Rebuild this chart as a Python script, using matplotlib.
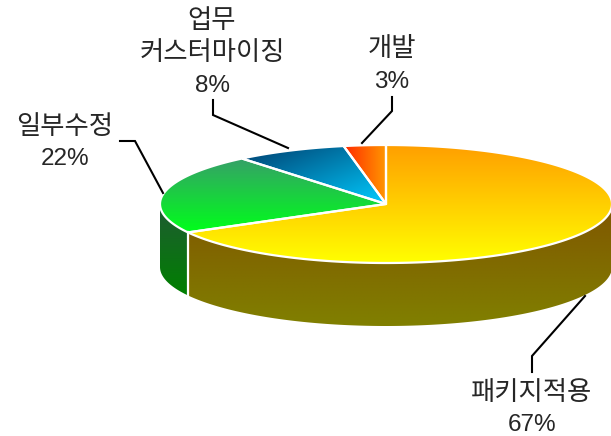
import numpy as np
import matplotlib
matplotlib.use('Agg')
import matplotlib.pyplot as plt
from matplotlib.patches import Polygon

plt.rcParams['font.family'] = ['Noto Sans CJK KR', 'DejaVu Sans']

# pie data, clockwise from 12 o'clock
labels = [['패키지적용'], ['일부수정'], ['업무', '커스터마이징'], ['개발']]
values = [67, 22, 8, 3]

# top colours: (start, end, direction)
top_colors = [
    ('#ff9f00', '#ffff00', 'v'),
    ('#36a068', '#00ff1a', 'v'),
    ('#003e6e', '#00ccff', 'd'),
    ('#ff2a00', '#ff9900', 'h'),
]
side_colors = [
    ('#805600', '#808000'),
    ('#205a34', '#008000'),
]

# label x and y of the percent line in pixels, leader lines too
label_pos = [(532, 425), (65, 159), (212, 86), (392, 82)]
line_step = 33
leaders = [
    [(532, 372), (532, 356), (585, 296)],
    [(120, 141), (135, 141), (163, 193)],
    [(213, 100), (213, 115), (288, 148)],
    [(392, 97), (392, 111), (362, 143)],
]

# ellipse geometry in pixels
cx, cy = 386, 204
a, b = 226, 59
depth = 63


def rim(t1, t2, n=200):
    t = np.radians(np.linspace(t1, t2, n))
    return cx + a * np.sin(t), cy - b * np.cos(t)


def fill_gradient(ax, poly, c1, c2, direction):
    xs, ys = poly[:, 0], poly[:, 1]
    u, v = np.meshgrid(np.linspace(0, 1, 200), np.linspace(0, 1, 200))
    if direction == 'v':
        f = v
    elif direction == 'h':
        f = u
    else:
        f = (u + v) / 2
    c1 = np.array(matplotlib.colors.to_rgb(c1))
    c2 = np.array(matplotlib.colors.to_rgb(c2))
    img = c1 + (c2 - c1) * f[..., None]
    im = ax.imshow(img, extent=(xs.min(), xs.max(), ys.max(), ys.min()),
                   aspect='auto', interpolation='bilinear', zorder=2)
    clip = Polygon(poly, closed=True, transform=ax.transData)
    im.set_clip_path(clip)


fig = plt.figure(figsize=(6.11, 4.36), dpi=100)
ax = fig.add_axes([0, 0, 1, 1])

edges = np.cumsum([0] + values) / sum(values) * 360

# side wall, only the front half can be seen
side_spans = [(90, edges[1]), (edges[1], 270)]
for (t1, t2), (c1, c2) in zip(side_spans, side_colors):
    x, y = rim(t1, t2)
    poly = np.column_stack([np.r_[x, x[::-1]], np.r_[y, y[::-1] + depth]])
    fill_gradient(ax, poly, c1, c2, 'v')

x0, y0 = rim(edges[1], edges[1], 1)
ax.plot([x0[0], x0[0]], [y0[0], y0[0] + depth], color='white', lw=1.6, zorder=3)

# top face
for i, (c1, c2, direction) in enumerate(top_colors):
    x, y = rim(edges[i], edges[i + 1])
    poly = np.column_stack([np.r_[cx, x], np.r_[cy, y]])
    fill_gradient(ax, poly, c1, c2, direction)
    ax.add_patch(Polygon(poly, closed=True, fc='none', ec='white', lw=1.6, zorder=4))

for pts in leaders:
    pts = np.array(pts)
    ax.plot(pts[:, 0], pts[:, 1], color='black', lw=1.5, zorder=5, solid_joinstyle='miter')

# each line is its own text, the reference has wide line gaps
for lines, val, (lx, ly) in zip(labels, values, label_pos):
    ax.text(lx, ly, f'{val}%', ha='center', va='center', fontsize=17.5,
            family='Liberation Sans', color='#262626', zorder=6)
    for j, line in enumerate(reversed(lines)):
        ax.text(lx, ly - (j + 1) * line_step, line, ha='center', va='center',
                fontsize=19, color='#262626', zorder=6)

ax.set_xlim(0, 611)
ax.set_ylim(436, 0)
ax.axis('off')

fig.savefig('out.png', dpi=100)
